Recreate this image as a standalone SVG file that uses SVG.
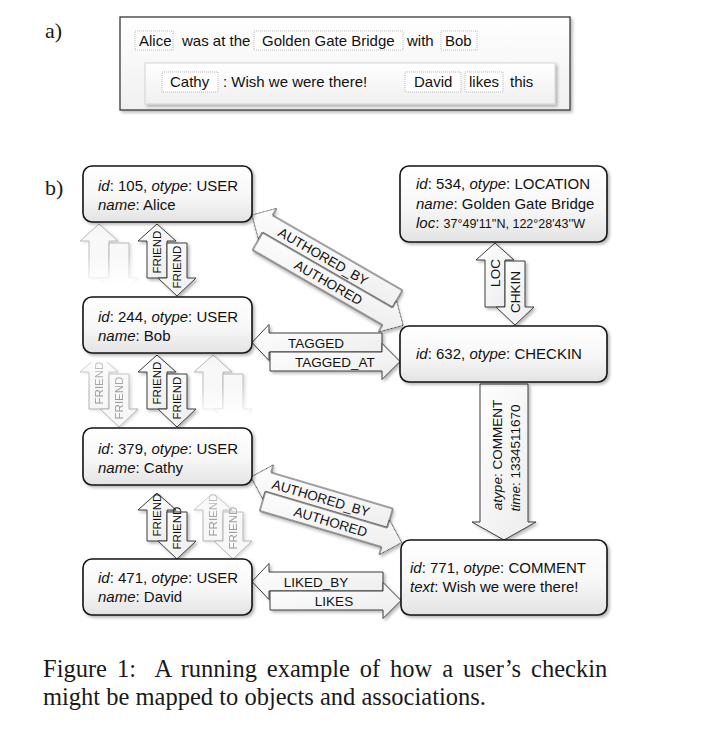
<svg xmlns="http://www.w3.org/2000/svg" width="706" height="730" viewBox="0 0 706 730">
<defs>
<style>
.t{font-family:'Liberation Sans',Arial,sans-serif;font-size:15px;fill:#111}
.i{font-style:italic}
.node{fill:url(#gNode);stroke:#151515;stroke-width:1.6;filter:url(#sh)}
.arr{fill:url(#gArr);stroke:#3c3c3c;stroke-width:1;filter:url(#sh)}
.ghost{fill:#f7f7f7;stroke:#b2b2b2;stroke-width:1;filter:url(#shg)}
.lbl{font-family:'Liberation Sans',Arial,sans-serif;font-size:13.5px;fill:#111;text-anchor:middle}
.fr{font-family:'Liberation Sans',Arial,sans-serif;font-size:11.5px;fill:#111;text-anchor:middle}
.frg{font-family:'Liberation Sans',Arial,sans-serif;font-size:11.5px;fill:#9a9a9a;text-anchor:middle}
.word{fill:#fff;stroke:#a8a8a8;stroke-width:0.8;stroke-dasharray:1 1}
.wt{font-family:'Liberation Sans',Arial,sans-serif;font-size:15px;fill:#111}
.serif{font-family:'Liberation Serif','Times New Roman',serif;fill:#1a1a1a}
</style>
<linearGradient id="gNode" x1="0" y1="0" x2="0" y2="1">
<stop offset="0" stop-color="#ffffff"/><stop offset="0.55" stop-color="#f7f7f7"/><stop offset="1" stop-color="#e3e3e3"/>
</linearGradient>
<linearGradient id="gArr" x1="0" y1="0" x2="1" y2="1">
<stop offset="0" stop-color="#ffffff"/><stop offset="1" stop-color="#ececec"/>
</linearGradient>
<linearGradient id="gBox" x1="0" y1="0" x2="0" y2="1">
<stop offset="0" stop-color="#ffffff"/><stop offset="1" stop-color="#f0f0f0"/>
</linearGradient>
<linearGradient id="fadeDn" x1="0" y1="0" x2="0" y2="1">
<stop offset="0" stop-color="#fff" stop-opacity="1"/><stop offset="0.55" stop-color="#fff" stop-opacity="0.85"/><stop offset="1" stop-color="#fff" stop-opacity="0"/>
</linearGradient>
<linearGradient id="fadeUp" x1="0" y1="0" x2="0" y2="1">
<stop offset="0" stop-color="#fff" stop-opacity="0.55"/><stop offset="0.4" stop-color="#fff" stop-opacity="1"/><stop offset="1" stop-color="#fff" stop-opacity="1"/>
</linearGradient>
<filter id="sh" x="-20%" y="-20%" width="150%" height="150%">
<feDropShadow dx="2" dy="2" stdDeviation="1.5" flood-color="#000" flood-opacity="0.28"/>
</filter>
<filter id="shg" x="-20%" y="-20%" width="150%" height="150%">
<feDropShadow dx="2" dy="1" stdDeviation="1.5" flood-color="#000" flood-opacity="0.15"/>
</filter>
<mask id="m1" maskUnits="userSpaceOnUse" x="60" y="215" width="100" height="90"><rect x="60" y="220" width="100" height="66" fill="url(#fadeDn)"/></mask>
<mask id="m2" maskUnits="userSpaceOnUse" x="60" y="355" width="100" height="90"><rect x="60" y="362" width="100" height="70" fill="url(#fadeUp)"/></mask>
<mask id="m3" maskUnits="userSpaceOnUse" x="180" y="345" width="100" height="90"><rect x="180" y="350" width="100" height="68" fill="url(#fadeDn)"/></mask>
<mask id="m4" maskUnits="userSpaceOnUse" x="180" y="485" width="100" height="90"><rect x="180" y="494" width="100" height="70" fill="url(#fadeUp)"/></mask>
</defs>

<rect width="706" height="730" fill="#fff"/>

<g id="partA">
<text class="serif" x="45" y="38" font-size="22">a)</text>
<rect x="120" y="17" width="450" height="93" fill="url(#gBox)" stroke="#3a3a3a" stroke-width="1.3" filter="url(#sh)"/>
<rect x="135" y="31" width="38" height="19" class="word"/>
<rect x="254" y="31" width="149" height="19" class="word"/>
<rect x="441" y="31" width="36" height="19" class="word"/>
<text class="wt" x="139" y="46">Alice</text>
<text class="wt" x="182" y="46">was at the</text>
<text class="wt" x="262" y="46">Golden Gate Bridge</text>
<text class="wt" x="407" y="46">with</text>
<text class="wt" x="445" y="46">Bob</text>
<rect x="145" y="63" width="410" height="41" fill="url(#gBox)" stroke="#d4d4d4" stroke-width="1" filter="url(#sh)"/>
<rect x="162" y="72" width="56" height="20" class="word"/>
<rect x="405" y="72" width="56" height="20" class="word"/>
<rect x="465" y="72" width="38" height="20" class="word"/>
<text class="wt" x="170" y="87">Cathy</text>
<text class="wt" x="223" y="87">: Wish we were there!</text>
<text class="wt" x="414" y="87">David</text>
<text class="wt" x="469" y="87">likes</text>
<text class="wt" x="510" y="87">this</text>
</g>

<text class="serif" x="45" y="195" font-size="22">b)</text>

<g id="connectors">
<g mask="url(#m1)">
<path class="ghost" d="M99,224 L118,241 L109,241 L109,278 L89,278 L89,241 L80,241 Z"/>
<path class="ghost" d="M109,243 L129,243 L129,278 L138,278 L119,296 L100,278 L109,278 Z"/>
</g>
<g mask="url(#m2)">
<path class="ghost" d="M99,355 L118,372 L109,372 L109,409 L89,409 L89,372 L80,372 Z"/>
<path class="ghost" d="M109,374 L129,374 L129,409 L138,409 L119,427 L100,409 L109,409 Z"/>
<text class="frg" transform="translate(99,383) rotate(-90)" y="4">FRIEND</text>
<text class="frg" transform="translate(119,398) rotate(-90)" y="4">FRIEND</text>
</g>
<g mask="url(#m3)">
<path class="ghost" d="M213,355 L232,372 L223,372 L223,409 L203,409 L203,372 L194,372 Z"/>
<path class="ghost" d="M223,374 L243,374 L243,409 L252,409 L233,427 L214,409 L223,409 Z"/>
</g>
<g mask="url(#m4)">
<path class="ghost" d="M213,493 L232,510 L223,510 L223,541 L203,541 L203,510 L194,510 Z"/>
<path class="ghost" d="M223,512 L243,512 L243,541 L252,541 L233,559 L214,541 L223,541 Z"/>
<text class="frg" transform="translate(213,515) rotate(-90)" y="4">FRIEND</text>
<text class="frg" transform="translate(233,528) rotate(-90)" y="4">FRIEND</text>
</g>

<path class="arr" d="M157,224 L176,241 L167,241 L167,278 L147,278 L147,241 L138,241 Z"/>
<path class="arr" d="M167,243 L187,243 L187,278 L196,278 L177,296 L158,278 L167,278 Z"/>
<text class="fr" transform="translate(157,252) rotate(-90)" y="4">FRIEND</text>
<text class="fr" transform="translate(177,267) rotate(-90)" y="4">FRIEND</text>
<path class="arr" d="M157,355 L176,372 L167,372 L167,409 L147,409 L147,372 L138,372 Z"/>
<path class="arr" d="M167,374 L187,374 L187,409 L196,409 L177,427 L158,409 L167,409 Z"/>
<text class="fr" transform="translate(157,383) rotate(-90)" y="4">FRIEND</text>
<text class="fr" transform="translate(177,398) rotate(-90)" y="4">FRIEND</text>
<path class="arr" d="M157,493 L176,510 L167,510 L167,541 L147,541 L147,510 L138,510 Z"/>
<path class="arr" d="M167,512 L187,512 L187,541 L196,541 L177,559 L158,541 L167,541 Z"/>
<text class="fr" transform="translate(157,515) rotate(-90)" y="4">FRIEND</text>
<text class="fr" transform="translate(177,528) rotate(-90)" y="4">FRIEND</text>

<g transform="translate(247,223.66) rotate(30)">
<path class="arr" d="M0,-10 L18,-28 L18,-20 L168,-20 L168,0 L18,0 L18,8 Z"/>
<path class="arr" d="M18,0 L168,0 L168,-8 L186,10 L168,28 L168,20 L18,20 Z"/>
<text class="lbl" x="82.5" y="-5">AUTHORED_BY</text>
<text class="lbl" x="100" y="15">AUTHORED</text>
</g>
<path class="arr" d="M252,342.5 L269,324.5 L269,333 L382,333 L382,352 L269,352 L269,360.5 Z"/>
<path class="arr" d="M270,352 L382,352 L382,343.5 L400,361.5 L382,379.5 L382,371 L270,371 Z"/>
<text class="lbl" x="316" y="347.5">TAGGED</text>
<text class="lbl" x="335" y="366.5">TAGGED_AT</text>
<g transform="translate(248.16,486.59) rotate(16.5)">
<path class="arr" d="M0,-10 L18,-28 L18,-20 L145,-20 L145,0 L18,0 L18,8 Z"/>
<path class="arr" d="M18,0 L145,0 L145,-8 L163,10 L145,28 L145,20 L18,20 Z"/>
<text class="lbl" x="73" y="-5">AUTHORED_BY</text>
<text class="lbl" x="89" y="15">AUTHORED</text>
</g>
<path class="arr" d="M252,581.5 L269,563.5 L269,572 L383,572 L383,591 L269,591 L269,599.5 Z"/>
<path class="arr" d="M270,591 L383,591 L383,582.5 L401,600.5 L383,618.5 L383,610 L270,610 Z"/>
<text class="lbl" x="316" y="586.5">LIKED_BY</text>
<text class="lbl" x="334" y="605.5">LIKES</text>
<path class="arr" d="M495,243 L514,260 L505,260 L505,307 L485,307 L485,260 L476,260 Z"/>
<path class="arr" d="M505,261 L525,261 L525,307 L534,307 L515,325 L496,307 L505,307 Z"/>
<text class="lbl" font-size="13" transform="translate(495,273) rotate(-90)" y="4.5">LOC</text>
<text class="lbl" font-size="13" transform="translate(515,292) rotate(-90)" y="4.5">CHKIN</text>
<path class="arr" d="M480,384 L528,384 L528,522 L536,522 L504,540 L472,522 L480,522 Z"/>
<text class="lbl" font-size="14" transform="translate(497,455) rotate(-90)" y="5"><tspan class="i">atype</tspan>: COMMENT</text>
<text class="lbl" font-size="14" transform="translate(515,458) rotate(-90)" y="5"><tspan class="i">time</tspan>: 1334511670</text>
</g>

<g id="n105">
<rect class="node" x="83" y="166" width="169" height="56" rx="9"/>
<text class="t" x="98" y="191"><tspan class="i">id</tspan>: 105, <tspan class="i">otype</tspan>: USER</text>
<text class="t" x="98" y="210"><tspan class="i">name</tspan>: Alice</text>
</g>
<g id="n244">
<rect class="node" x="83" y="297" width="169" height="56" rx="9"/>
<text class="t" x="98" y="322"><tspan class="i">id</tspan>: 244, <tspan class="i">otype</tspan>: USER</text>
<text class="t" x="98" y="341"><tspan class="i">name</tspan>: Bob</text>
</g>
<g id="n379">
<rect class="node" x="83" y="428" width="169" height="57" rx="9"/>
<text class="t" x="98" y="454"><tspan class="i">id</tspan>: 379, <tspan class="i">otype</tspan>: USER</text>
<text class="t" x="98" y="473"><tspan class="i">name</tspan>: Cathy</text>
</g>
<g id="n471">
<rect class="node" x="83" y="559" width="169" height="56" rx="9"/>
<text class="t" x="98" y="583"><tspan class="i">id</tspan>: 471, <tspan class="i">otype</tspan>: USER</text>
<text class="t" x="98" y="602"><tspan class="i">name</tspan>: David</text>
</g>
<g id="n534">
<rect class="node" x="400" y="166" width="207" height="76" rx="9"/>
<text class="t" x="416" y="189"><tspan class="i">id</tspan>: 534, <tspan class="i">otype</tspan>: LOCATION</text>
<text class="t" x="416" y="209"><tspan class="i">name</tspan>: Golden Gate Bridge</text>
<text class="t" x="416" y="228"><tspan class="i">loc</tspan>: <tspan font-size="12.5">37°49'11''N, 122°28'43''W</tspan></text>
</g>
<g id="n632">
<rect class="node" x="400" y="326" width="207" height="56" rx="9"/>
<text class="t" x="416" y="359"><tspan class="i">id</tspan>: 632, <tspan class="i">otype</tspan>: CHECKIN</text>
</g>
<g id="n771">
<rect class="node" x="401" y="540" width="206" height="75" rx="9"/>
<text class="t" x="410" y="573"><tspan class="i">id</tspan>: 771, <tspan class="i">otype</tspan>: COMMENT</text>
<text class="t" x="410" y="592"><tspan class="i">text</tspan>: Wish we were there!</text>
</g>

<g id="caption" class="serif" font-size="24.5">
<text x="43" y="677" word-spacing="3.8" style="white-space:pre">Figure 1:  A running example of how a user’s checkin</text>
<text x="43" y="705">might be mapped to objects and associations.</text>
</g>
</svg>
